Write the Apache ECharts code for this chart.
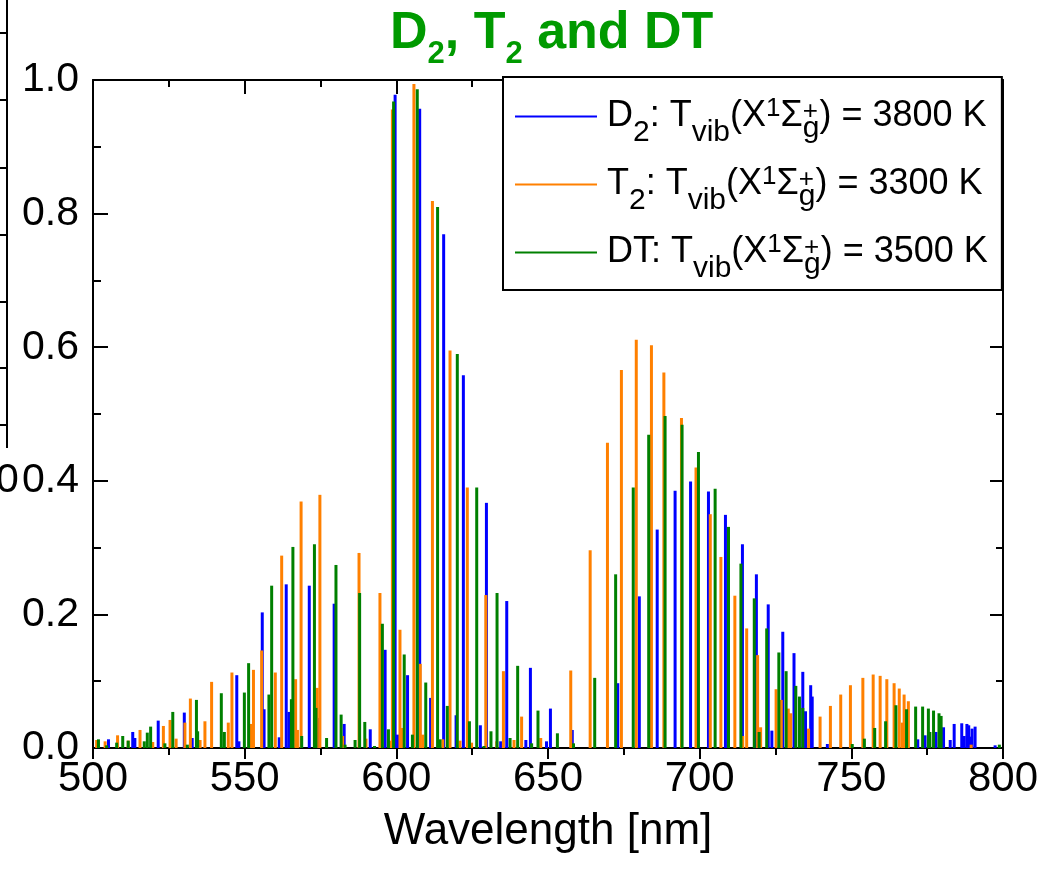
<!DOCTYPE html>
<html>
<head>
<meta charset="utf-8">
<script src="https://cdn.jsdelivr.net/npm/echarts@6/dist/echarts.min.js"></script>
<style>
html,body{margin:0;padding:0;background:#fff;}
#chart{width:1060px;height:870px;}
</style>
</head>
<body>
<div id="chart"></div>
<script>
// ---- data (wavelength [nm], relative intensity) ----
const d2Wave = [505.1,513.1,513.8,521.5,530.1,532.7,547.4,548.1,555.8,556.4,561.4,563.7,564.6,571.3,574.3,579.5,582.8,591.4,596.3,599.6,600.4,603.7,607.7,611.3,615.6,619.7,622.1,627.7,629.7,634.4,636.4,642.7,644.2,649.5,650.8,658.0,673.0,680.1,686.0,691.9,697.0,702.9,708.5,714.1,718.7,722.6,723.8,727.4,731.1,734.0,734.9,736.6,737.1,742.1,771.9,774.3,777.9,780.4,782.6,783.9,786.4,787.2,788.1,788.7,789.2,789.8,790.8,797.4];
const d2Int  = [0.013,0.024,0.015,0.041,0.053,0.015,0.109,0.010,0.203,0.058,0.016,0.245,0.054,0.243,0.045,0.216,0.036,0.028,0.147,0.978,0.020,0.109,0.957,0.075,0.769,0.049,0.558,0.034,0.367,0.010,0.220,0.012,0.120,0.010,0.059,0.027,0.097,0.227,0.327,0.385,0.399,0.384,0.349,0.305,0.260,0.215,0.026,0.174,0.142,0.114,0.055,0.094,0.077,0.006,0.013,0.019,0.024,0.031,0.012,0.036,0.037,0.018,0.036,0.034,0.017,0.029,0.032,0.004];

const t2Wave = [501.2,504.0,508.1,511.6,515.5,519.7,523.2,525.4,527.4,530.3,532.1,535.3,536.9,539.1,544.6,545.8,552.1,552.9,555.6,560.1,562.2,566.8,567.4,568.6,573.9,574.8,582.3,587.7,590.0,594.6,597.9,598.7,601.2,601.8,605.8,607.9,608.7,611.9,615.3,617.7,621.0,623.4,624.8,629.5,633.1,635.3,638.8,641.3,647.6,657.5,663.9,669.6,674.2,679.1,684.1,688.2,694.0,698.8,703.5,707.0,711.6,714.2,715.5,719.1,720.1,725.2,726.9,729.2,730.0,735.9,739.7,743.1,746.5,749.7,753.8,757.2,759.5,761.7,764.1,765.8,766.8,767.4,768.8,789.5];
const t2Int  = [0.012,0.010,0.019,0.011,0.027,0.009,0.033,0.042,0.014,0.038,0.074,0.012,0.040,0.099,0.038,0.113,0.036,0.117,0.146,0.113,0.288,0.103,0.027,0.369,0.090,0.379,0.018,0.292,0.014,0.232,0.011,0.956,0.177,0.030,0.994,0.126,0.020,0.819,0.013,0.595,0.011,0.390,0.008,0.229,0.010,0.115,0.012,0.047,0.015,0.116,0.296,0.457,0.566,0.611,0.603,0.562,0.494,0.420,0.350,0.286,0.228,0.018,0.179,0.139,0.031,0.088,0.072,0.059,0.052,0.029,0.047,0.063,0.080,0.094,0.105,0.110,0.108,0.103,0.097,0.089,0.038,0.080,0.070,0.005];

const dtWave = [501.8,504.5,507.8,509.8,511.6,516.9,517.9,519.0,523.7,526.3,531.1,534.1,534.5,542.3,543.3,549.9,551.3,558.0,558.9,565.4,565.9,568.8,573.0,573.5,577.0,580.1,581.8,583.1,586.4,587.9,589.6,592.8,595.4,597.4,599.1,602.6,605.3,606.9,609.7,613.6,614.4,616.8,620.1,624.1,626.5,628.9,631.2,633.2,637.5,640.0,644.6,646.7,653.1,658.4,665.4,672.3,678.1,683.2,688.6,694.2,699.6,705.1,709.5,713.6,718.0,719.6,722.1,726.1,728.5,731.7,732.9,734.0,750.3,754.3,757.7,761.3,764.7,768.2,771.2,773.5,775.4,775.9,777.1,778.9,779.6,798.8];
const dtInt  = [0.013,0.004,0.008,0.018,0.011,0.010,0.023,0.032,0.007,0.054,0.005,0.072,0.025,0.082,0.024,0.083,0.127,0.080,0.243,0.073,0.301,0.018,0.305,0.060,0.015,0.274,0.050,0.005,0.012,0.232,0.039,0.003,0.186,0.028,0.968,0.140,0.020,0.986,0.098,0.810,0.013,0.063,0.590,0.040,0.390,0.003,0.025,0.232,0.015,0.123,0.007,0.056,0.022,0.007,0.105,0.260,0.390,0.469,0.497,0.484,0.443,0.388,0.331,0.276,0.224,0.024,0.179,0.143,0.115,0.093,0.077,0.060,0.006,0.014,0.030,0.040,0.064,0.058,0.062,0.062,0.059,0.024,0.056,0.052,0.048,0.005];

const seriesNames = ['D2', 'T2', 'DT'];
const seriesColors = ['#0000ff', '#ff8000', '#008000'];
const seriesTemps = ['3800 K', '3300 K', '3500 K'];
const xTicks = {min: 500, max: 800, interval: 50};
const yTicks = {min: 0, max: 1.0, interval: 0.2};

const FONT = '"Liberation Sans", Arial, sans-serif';
const chart = echarts.init(document.getElementById('chart'), null, {renderer: 'canvas'});

function pairs(w, v) { return w.map((x, i) => [x, v[i]]); }
const allData = [pairs(d2Wave, d2Int), pairs(t2Wave, t2Int), pairs(dtWave, dtInt)];

const legendText = {
  'D2': '{f|D}{sb|2}{m|: T}{sb|vib}{m|(X}{sp|1}{m|Σ}{pl|+}{g|g}{m|) = ' + seriesTemps[0] + '}',
  'T2': '{f|T}{sb|2}{m|: T}{sb|vib}{m|(X}{sp|1}{m|Σ}{pl|+}{g|g}{m|) = ' + seriesTemps[1] + '}',
  'DT': '{f|DT: T}{sb|vib}{m|(X}{sp|1}{m|Σ}{pl|+}{g|g}{m|) = ' + seriesTemps[2] + '}'
};

const LH = 50;
const base = {fontFamily: FONT, color: '#000', lineHeight: LH};

const axisLineStyle = {color: '#000', width: 2};

const option = {
  animation: false,
  backgroundColor: '#fff',
  title: {
    text: '{a|D}{s|2}{a|, T}{s|2}{a| and DT}',
    left: 390, top: 4, padding: 0,
    textStyle: {
      rich: {
        a: {fontFamily: FONT, fontWeight: 'bold', fontSize: 52, color: '#009a00', lineHeight: 60},
        s: {fontFamily: FONT, fontWeight: 'bold', fontSize: 31, color: '#009a00', lineHeight: 60, padding: [40, 0, 0, 0]}
      }
    }
  },
  legend: {
    orient: 'vertical',
    left: 503, top: 77,
    padding: [8, 14, 6, 12],
    itemGap: 5,
    itemWidth: 82, itemHeight: 2,
    icon: 'rect',
    borderColor: '#000', borderWidth: 2,
    backgroundColor: '#fff',
    data: seriesNames,
    formatter: n => legendText[n],
    textStyle: {
      fontFamily: FONT, fontSize: 36, color: '#000', lineHeight: LH,
      rich: {
        f: Object.assign({}, base, {fontSize: 36, padding: [0, 0, 0, 5]}),
        m: Object.assign({}, base, {fontSize: 36}),
        sb: Object.assign({}, base, {fontSize: 30, padding: [33, 0, 0, 0]}),
        sp: Object.assign({}, base, {fontSize: 26, padding: [0, 0, 16, 0]}),
        pl: Object.assign({}, base, {fontSize: 26, padding: [0, 0, 10, 0], width: 0}),
        g: Object.assign({}, base, {fontSize: 30, padding: [24, 0, 0, 0]})
      }
    }
  },
  grid: {left: 93, right: 57, top: 80, bottom: 122, containLabel: false},
  xAxis: [{
    type: 'value', position: 'bottom',
    min: xTicks.min, max: xTicks.max, interval: xTicks.interval,
    axisLine: {show: true, onZero: false, lineStyle: axisLineStyle},
    axisTick: {show: true, inside: false, length: 11, lineStyle: {color: '#000', width: 2}},
    minorTick: {show: true, splitNumber: 2, length: 7, lineStyle: {color: '#000', width: 2}},
    splitLine: {show: false},
    axisLabel: {fontFamily: FONT, fontSize: 42, color: '#000', margin: 10},
    name: 'Wavelength [nm]', nameLocation: 'middle', nameGap: 62,
    nameTextStyle: {fontFamily: FONT, fontSize: 44, color: '#000'}
  }, {
    type: 'value', position: 'top',
    min: xTicks.min, max: xTicks.max, interval: xTicks.interval,
    axisLine: {show: true, onZero: false, lineStyle: axisLineStyle},
    axisTick: {show: true, inside: true, length: 14, lineStyle: {color: '#000', width: 2}},
    minorTick: {show: true, splitNumber: 2, length: 7, lineStyle: {color: '#000', width: 2}},
    splitLine: {show: false},
    axisLabel: {show: false}
  }],
  yAxis: [{
    type: 'value', position: 'left',
    min: yTicks.min, max: yTicks.max, interval: yTicks.interval,
    axisLine: {show: true, onZero: false, lineStyle: axisLineStyle},
    axisTick: {show: true, inside: true, length: 15, lineStyle: {color: '#000', width: 2}},
    minorTick: {show: true, splitNumber: 2, length: 8, lineStyle: {color: '#000', width: 2}},
    splitLine: {show: false},
    axisLabel: {fontFamily: FONT, fontSize: 41, color: '#000', margin: 14, formatter: v => v.toFixed(1)}
  }, {
    type: 'value', position: 'right',
    min: yTicks.min, max: yTicks.max, interval: yTicks.interval,
    axisLine: {show: true, onZero: false, lineStyle: axisLineStyle},
    axisTick: {show: true, inside: true, length: 13, lineStyle: {color: '#000', width: 2}},
    minorTick: {show: true, splitNumber: 2, length: 7, lineStyle: {color: '#000', width: 2}},
    splitLine: {show: false},
    axisLabel: {show: false}
  }],
  series: seriesNames.map((n, i) => ({
    name: n, type: 'bar',
    xAxisIndex: 0, yAxisIndex: 0,
    barWidth: 3, barGap: '-100%',
    itemStyle: {color: seriesColors[i]},
    data: allData[i],
    z: 2 + i
  })),
  graphic: [
    // remnant of a neighbouring panel at the left edge
    {type: 'line', shape: {x1: 7, y1: 0, x2: 7, y2: 448}, style: {stroke: '#000', lineWidth: 2}},
    {type: 'group', children: [33, 100, 168, 235, 302, 368, 425].map(y => ({
      type: 'line', shape: {x1: 0, y1: y, x2: 7, y2: y}, style: {stroke: '#000', lineWidth: 2}
    }))},
    {type: 'text', left: -4, top: 460, style: {text: '0', font: '41px ' + FONT, fill: '#000'}}
  ]
};
chart.setOption(option);
</script>
</body>
</html>
